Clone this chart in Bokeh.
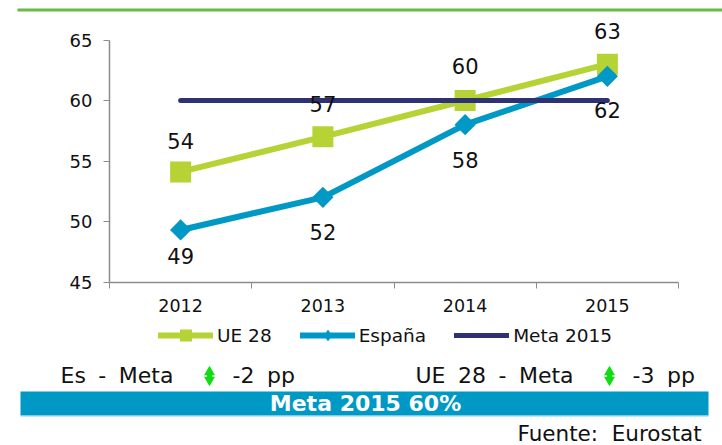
from bokeh.plotting import figure
from bokeh.models import (Range1d, LinearAxis, FixedTicker, Label, BoxAnnotation, Legend, LegendItem, ColumnDataSource)
from bokeh.core.properties import value
from bokeh.embed import file_html
from bokeh.resources import INLINE

years = ["2012", "2013", "2014", "2015"]
ue28 = [54.1, 57, 60, 63]
espana = [49.3, 52, 58, 62]
meta = [60, 60, 60, 60]
ue28_labels = ["54", "57", "60", "63"]
espana_labels = ["49", "52", "58", "62"]
y_ticks = [45, 50, 55, 60, 65]
x_edges = [-0.5, 0.5, 1.5, 2.5, 3.5]
ue28_label_gap = [-31, -33, -35, -33]
espana_label_gap = [26, 35, 35, 34]

W, H = 722, 445
# plot area in page pixels
PL, PR, PT, PB = 109, 678, 39.5, 281.5
FONT = "DejaVu Sans"
xs = list(range(len(years)))

ux = (x_edges[-1] - x_edges[0]) / (PR - PL)
uy = (y_ticks[-1] - y_ticks[0]) / (PB - PT)
x0 = x_edges[0] - PL * ux
y1 = y_ticks[-1] + PT * uy
p = figure(width=W, height=H, output_backend="svg", toolbar_location=None,
           x_range=Range1d(x0, x_edges[-1] + (W - PR) * ux),
           y_range=Range1d(y_ticks[0] - (H - PB) * uy, y1),
           min_border_left=0, min_border_top=0, min_border_right=0, min_border_bottom=0,
           x_axis_type=None, y_axis_type=None)
p.outline_line_color = None
p.grid.visible = False
p.background_fill_color = None

GREY = "#8c8c8c"
yax = LinearAxis(ticker=FixedTicker(ticks=y_ticks), fixed_location=x_edges[0],
                 bounds=(y_ticks[0], y_ticks[-1]))
yax.axis_line_color = GREY
yax.axis_line_width = 1.5
yax.major_tick_line_color = GREY
yax.major_tick_in = 0
yax.major_tick_out = 6
yax.minor_tick_line_color = None
yax.major_label_text_font = FONT
yax.major_label_text_font_size = "18px"
yax.major_label_text_color = "#111111"
yax.major_label_standoff = 11
p.add_layout(yax, "left")

xt = LinearAxis(ticker=FixedTicker(ticks=x_edges), fixed_location=y_ticks[0],
                bounds=(x_edges[0], x_edges[-1]),
                major_label_overrides={t: "" for t in x_edges})
xt.axis_line_color = GREY
xt.axis_line_width = 1.5
xt.major_tick_line_color = GREY
xt.major_tick_in = 0
xt.major_tick_out = 6
xt.minor_tick_line_color = None
p.add_layout(xt, "below")

xlab = LinearAxis(ticker=FixedTicker(ticks=xs), fixed_location=y_ticks[0],
                  major_label_overrides={i: y for i, y in enumerate(years)})
xlab.axis_line_color = None
xlab.major_tick_line_color = None
xlab.minor_tick_line_color = None
xlab.major_label_text_font = FONT
xlab.major_label_text_font_size = "17.5px"
xlab.major_label_text_color = "#111111"
xlab.major_label_standoff = 11
p.add_layout(xlab, "below")

GREEN = "#b5d334"
BLUE = "#0099c6"
NAVY = "#2e3275"
ARROW = "#0fdc12"

r1 = p.line(xs, ue28, line_color=GREEN, line_width=6, line_cap="round")
m1 = p.scatter(xs, ue28, marker="square", size=21, fill_color=GREEN, line_color=None)
legend_diamond = p.scatter(xs, espana, marker="diamond", size=10, fill_color=BLUE, line_color=None)
r2 = p.line(xs, espana, line_color=BLUE, line_width=6, line_cap="round")
m2 = p.scatter(xs, espana, marker="square", size=15, angle=45, angle_units="deg",
               fill_color=BLUE, line_color=None)
r3 = p.line(xs, meta, line_color=NAVY, line_width=5, line_cap="round")

src1 = ColumnDataSource(dict(x=xs, y=ue28, t=ue28_labels, g=ue28_label_gap))
p.text("x", "y", text="t", y_offset="g", source=src1, text_font=value(FONT), text_font_size="21px",
       text_color="#111111", text_align="center", text_baseline="alphabetic")
src2 = ColumnDataSource(dict(x=xs, y=espana, t=espana_labels, g=espana_label_gap))
p.text("x", "y", text="t", y_offset="g", source=src2, text_font=value(FONT), text_font_size="21px",
       text_color="#111111", text_align="center", text_baseline="alphabetic")

def box(x0_, x1_, y0_, y1_, color):
    p.add_layout(BoxAnnotation(left=x0_, right=x1_, top=H - y0_, bottom=H - y1_,
                               left_units="screen", right_units="screen",
                               top_units="screen", bottom_units="screen",
                               fill_color=color, fill_alpha=1, line_color=None, level="annotation"))

def label(x, y, text, size, color="#111111", align="left", style="normal"):
    p.add_layout(Label(x=x, y=H - y, x_units="screen", y_units="screen", text=text,
                       text_font=FONT, text_font_size=size, text_color=color,
                       text_align=align, text_baseline="alphabetic", text_font_style=style))

def arrow(px, py):
    # small up/down status icon, placed by page pixels
    dx = x0 + px * ux
    p.scatter([dx], [y1 - (py - 4) * uy], marker="triangle", size=11, fill_color=ARROW, line_color=None)
    p.scatter([dx], [y1 - (py + 4) * uy], marker="inverted_triangle", size=11, fill_color=ARROW, line_color=None)
    p.scatter([dx], [y1 - py * uy], marker="square", size=5, fill_color=ARROW, line_color=None)

box(17, 722, 8, 11, "#69bb44")
box(20, 708, 391, 415, BLUE)
box(20, 708, 415, 416, "#7fcce3")

leg = Legend(items=[LegendItem(label="UE 28", renderers=[r1, m1]),
                    LegendItem(label="España", renderers=[r2, legend_diamond]),
                    LegendItem(label="Meta 2015", renderers=[r3])],
             orientation="horizontal", location=(158, H - 350), background_fill_alpha=0,
             border_line_color=None, label_text_font=FONT, label_text_font_size="18.5px",
             label_text_color="#111111", glyph_width=55, glyph_height=30, spacing=28,
             label_standoff=4, margin=0, padding=0)
p.add_layout(leg, "center")

label(60, 375, "Es\u2005 -\u2005 Meta", "22px")
label(232, 375, "-2\u2005 pp", "22px")
label(415, 375, "UE\u2005 28\u2005 -\u2005 Meta", "22px")
label(632, 375, "-3\u2005 pp", "22px")
arrow(209, 375.5)
arrow(609, 375.5)
label(365, 403, "Meta 2015 60%", "22px", "#ffffff", "center", "bold")
label(517, 432.5, "Fuente:\u00a0 Eurostat", "21.5px")

open("out.html", "w").write(file_html(p, INLINE))
